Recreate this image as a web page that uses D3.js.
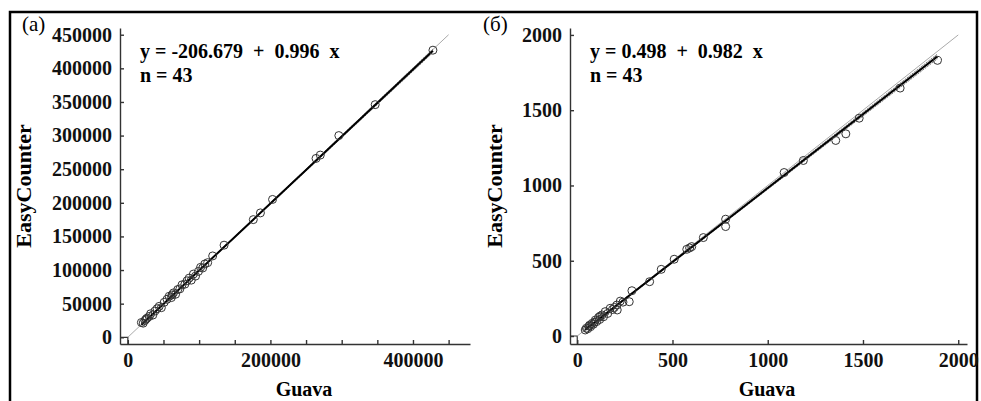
<!DOCTYPE html>
<html>
<head>
<meta charset="utf-8">
<script src="https://cdn.jsdelivr.net/npm/d3@7"></script>
<style>
  body { margin: 0; background: #fff; }
  svg { display: block; font-family: "Liberation Serif", "Times New Roman", serif; }
  .axis path, .axis line { stroke: #333; stroke-width: 1.4; }
  .axis text { font-family: "Liberation Serif", "Times New Roman", serif; font-size: 20px; font-weight: bold; fill: #111; }
</style>
</head>
<body>
<svg id="chart" width="981" height="401"></svg>
<script>
// panel (a): Guava vs EasyCounter, large counts
var guavaA = [19000, 21500, 24000, 25500, 27000, 30000, 32000, 35000, 38000, 41000,
  44000, 47000, 51000, 55000, 58000, 61000, 62000, 64000, 67000, 70000,
  73000, 76000, 80000, 83000, 86000, 89000, 92000, 95000, 99000, 102000,
  105000, 108000, 112000, 119000, 135000, 176000, 186000, 203000, 264000, 270000,
  296000, 347000, 428000];
var easyA = [22000, 21000, 25000, 27000, 28500, 31000, 35000, 33000, 39000, 42500,
  46000, 44000, 52000, 56500, 61000, 59000, 63000, 66000, 64000, 71000,
  72000, 78000, 79000, 84000, 88000, 85000, 94000, 91000, 98000, 104000,
  103000, 109000, 111000, 121000, 137000, 175000, 185000, 205000, 266000, 271000,
  300000, 346000, 427000];

// panel (б): small counts
var guavaB = [42, 48, 55, 62, 65, 70, 78, 85, 90, 95,
  102, 112, 118, 120, 130, 138, 147, 160, 173, 185,
  195, 208, 210, 226, 240, 273, 287, 380, 441, 509,
  575, 590, 601, 662, 779, 779, 1086, 1187, 1357, 1410,
  1480, 1695, 1891];
var easyB = [40, 52, 48, 66, 72, 62, 84, 78, 92, 106,
  96, 124, 110, 132, 140, 128, 162, 150, 184, 176,
  190, 206, 173, 232, 225, 228, 301, 361, 443, 510,
  576, 585, 594, 654, 776, 727, 1086, 1166, 1299, 1343,
  1447, 1647, 1831];

var ticksXA = [0, 50000, 100000, 150000, 200000, 250000, 300000, 350000, 400000, 450000];
var labelsXA = [0, 200000, 400000];
var ticksYA = [0, 50000, 100000, 150000, 200000, 250000, 300000, 350000, 400000, 450000];
var ticksXB = [0, 500, 1000, 1500, 2000];
var ticksYB = [0, 500, 1000, 1500, 2000];

var panels = [
  { tag: "(a)", tagX: 22, xs: guavaA, ys: easyA, a: -206.679, b: 0.996, n: 43,
    eq: "y = -206.679  +  0.996  x",
    xDom: [-11000, 480000], xRange: [120, 470], yDom: [-10000, 460000],
    xTicks: ticksXA, xLabels: labelsXA, yTicks: ticksYA, diag: 450000,
    titleY: 23, titleX: 304 },
  { tag: "(б)", tagX: 483, xs: guavaB, ys: easyB, a: 0.498, b: 0.982, n: 43,
    eq: "y = 0.498  +  0.982  x",
    xDom: [-38, 2046], xRange: [570, 967], yDom: [-53, 2046],
    xTicks: ticksXB, xLabels: ticksXB, yTicks: ticksYB, diag: 2000,
    titleY: 494, titleX: 767 }
];

var svg = d3.select("#chart");

// outer frame
svg.append("rect")
  .attr("x", 10).attr("y", 12).attr("width", 967).attr("height", 400)
  .attr("fill", "none").attr("stroke", "#000").attr("stroke-width", 2.5);

var yRange = [344, 28];

panels.forEach(function(p) {
  var x = d3.scaleLinear().domain(p.xDom).range(p.xRange);
  var y = d3.scaleLinear().domain(p.yDom).range(yRange);
  var g = svg.append("g");

  // axes, ticks inward
  g.append("g").attr("class", "axis")
    .attr("transform", "translate(0," + yRange[0] + ")")
    .call(d3.axisBottom(x).tickValues(p.xTicks).tickSizeInner(-4).tickSizeOuter(0).tickPadding(9)
      .tickFormat(function(d) { return p.xLabels.indexOf(d) >= 0 ? d : ""; }));

  g.append("g").attr("class", "axis")
    .attr("transform", "translate(" + p.xRange[0] + ",0)")
    .call(d3.axisLeft(y).tickValues(p.yTicks).tickSizeInner(-4).tickSizeOuter(0).tickPadding(8)
      .tickFormat(d3.format("d")));

  // little square at the origin
  g.append("path")
    .attr("d", "M" + p.xRange[0] + "," + y(0) + "H" + x(0) + "V" + yRange[0])
    .attr("fill", "none").attr("stroke", "#333").attr("stroke-width", 1.2);

  // 1:1 line
  g.append("line")
    .attr("x1", x(0)).attr("y1", y(0)).attr("x2", x(p.diag)).attr("y2", y(p.diag))
    .attr("stroke", "#aaa").attr("stroke-width", 1);

  // confidence band around the fit
  var n = p.xs.length;
  var xbar = d3.mean(p.xs);
  var sxx = d3.sum(p.xs, function(v) { return (v - xbar) * (v - xbar); });
  var sse = d3.sum(p.xs, function(v, i) { var r = p.ys[i] - (p.a + p.b * v); return r * r; });
  var se = Math.sqrt(sse / (n - 2));
  var x0 = d3.min(p.xs), x1 = d3.max(p.xs);
  var steps = d3.range(0, 41).map(function(i) { return x0 + (x1 - x0) * i / 40; });
  [-1, 1].forEach(function(s) {
    g.append("path")
      .datum(steps)
      .attr("d", d3.line()
        .x(function(v) { return x(v); })
        .y(function(v) { return y(p.a + p.b * v + s * 2.02 * se * Math.sqrt(1 / n + (v - xbar) * (v - xbar) / sxx)); }))
      .attr("fill", "none").attr("stroke", "#777").attr("stroke-width", 1)
      .attr("stroke-dasharray", "2,1");
  });

  // fitted line
  g.append("line")
    .attr("x1", x(x0)).attr("y1", y(p.a + p.b * x0))
    .attr("x2", x(x1)).attr("y2", y(p.a + p.b * x1))
    .attr("stroke", "#000").attr("stroke-width", 2);

  // points
  g.selectAll("circle.pt")
    .data(p.xs)
    .enter().append("circle")
    .attr("class", "pt")
    .attr("cx", function(d) { return x(d); })
    .attr("cy", function(d, i) { return y(p.ys[i]); })
    .attr("r", 4)
    .attr("fill", "none").attr("stroke", "#333").attr("stroke-width", 1);

  // texts
  g.append("text").attr("x", p.tagX).attr("y", 31)
    .attr("font-size", 21).text(p.tag);

  g.append("text").attr("x", p.xRange[0] + 20).attr("y", 58)
    .attr("font-size", 20).attr("font-weight", "bold")
    .style("white-space", "pre").text(p.eq);

  g.append("text").attr("x", p.xRange[0] + 20).attr("y", 82)
    .attr("font-size", 20).attr("font-weight", "bold")
    .text("n = " + p.n);

  g.append("text")
    .attr("transform", "translate(" + (p.titleY + 8) + ",186) rotate(-90)")
    .attr("text-anchor", "middle")
    .attr("font-size", 22).attr("font-weight", "bold")
    .text("EasyCounter");

  g.append("text")
    .attr("x", p.titleX).attr("y", 396)
    .attr("text-anchor", "middle")
    .attr("font-size", 20).attr("font-weight", "bold")
    .text("Guava");
});
</script>
</body>
</html>
